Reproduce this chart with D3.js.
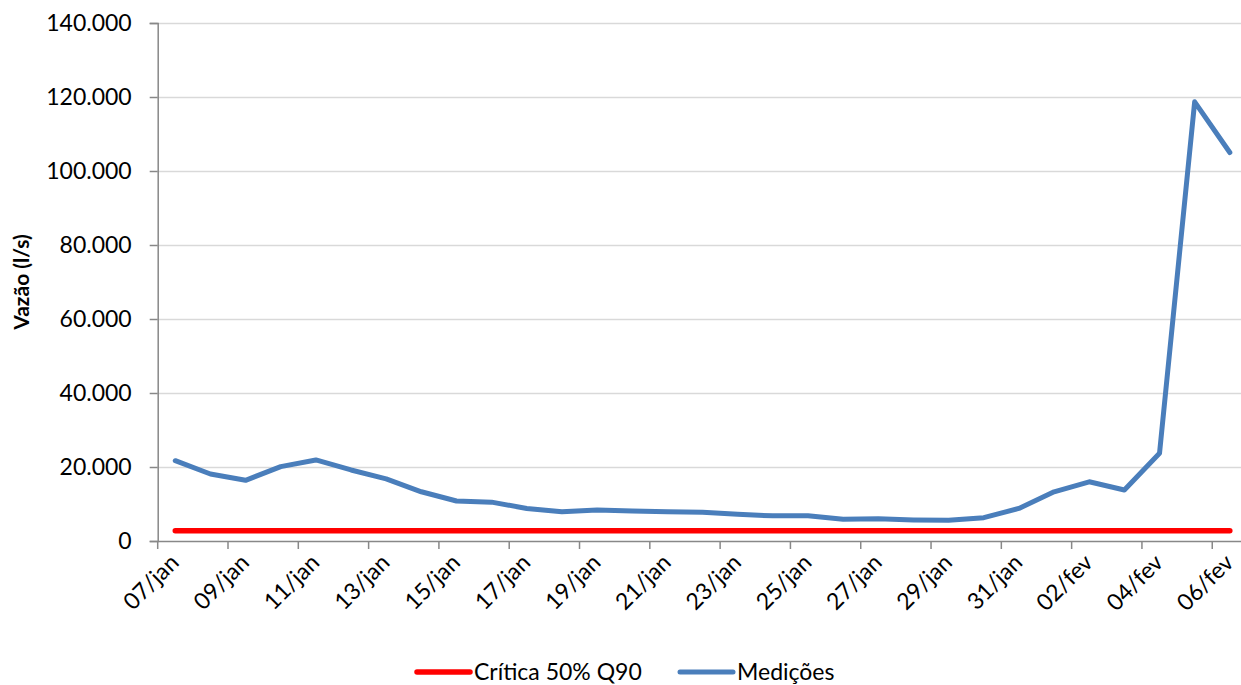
<!DOCTYPE html>
<html>
<head>
<meta charset="utf-8">
<script src="https://cdn.jsdelivr.net/npm/d3@7"></script>
<style>
  body { margin: 0; background: #fff; }
  svg { display: block; }
</style>
</head>
<body>
<svg id="svg"></svg>
<script>
// dados
const dias = ['07/jan', '08/jan', '09/jan', '10/jan', '11/jan', '12/jan', '13/jan', '14/jan',
  '15/jan', '16/jan', '17/jan', '18/jan', '19/jan', '20/jan', '21/jan', '22/jan', '23/jan',
  '24/jan', '25/jan', '26/jan', '27/jan', '28/jan', '29/jan', '30/jan', '31/jan',
  '01/fev', '02/fev', '03/fev', '04/fev', '05/fev', '06/fev']
const medicoes = [21700, 18100, 16400, 20100, 21900, 19200, 16800, 13300, 10800, 10500,
  8800, 7900, 8400, 8100, 7900, 7800, 7200, 6800, 6800, 5900, 6000, 5700, 5600, 6300,
  8800, 13300, 16000, 13800, 23700, 118700, 105000]
const critica = [2800, 2800, 2800, 2800, 2800, 2800, 2800, 2800, 2800, 2800, 2800, 2800,
  2800, 2800, 2800, 2800, 2800, 2800, 2800, 2800, 2800, 2800, 2800, 2800, 2800, 2800,
  2800, 2800, 2800, 2800, 2800]
const yTicks = [0, 20000, 40000, 60000, 80000, 100000, 120000, 140000]
const series = [
  { name: 'Crítica 50% Q90', values: critica, color: '#ff0000', width: 5.5 },
  { name: 'Medições', values: medicoes, color: '#4a7ebb', width: 5 }
]

const W = 1241, H = 685
const font = 'Lato, "Open Sans", sans-serif'
const svg = d3.select('#svg').attr('width', W).attr('height', H)

const x = d3.scaleBand().domain(dias).range([157.7, 1247.4]).padding(0)
const y = d3.scaleLinear().domain([0, 140000]).range([541, 23])
const cx = d => x(d) + x.bandwidth() / 2

const br = d3.formatLocale({ decimal: ',', thousands: '.', grouping: [3], currency: ['R$', ''] })
const fmt = br.format(',d')

// grade
svg.append('g').selectAll('line').data(yTicks.slice(1)).join('line')
  .attr('x1', 157.7).attr('x2', W)
  .attr('y1', d => Math.round(y(d)) + 0.5).attr('y2', d => Math.round(y(d)) + 0.5)
  .attr('stroke', '#d9d9d9').attr('stroke-width', 1.5)

// eixo y
const yAxis = svg.append('g').attr('transform', 'translate(157.7,0)')
  .call(d3.axisLeft(y).tickValues(yTicks).tickFormat(fmt).tickSize(8).tickPadding(18))
yAxis.select('.domain').attr('stroke', '#888').attr('stroke-width', 1.5)
yAxis.selectAll('.tick line').attr('stroke', '#888').attr('stroke-width', 1.5)
yAxis.selectAll('.tick text').attr('font-family', font).attr('font-size', 23).attr('fill', '#000')

// eixo x
const xAxis = svg.append('g').attr('transform', 'translate(0,541)')
  .call(d3.axisBottom(x).tickValues([]).tickSizeOuter(0))
xAxis.select('.domain').attr('stroke', '#888').attr('stroke-width', 1.5)
const tickPos = dias.filter((d, i) => i % 2 === 0)
xAxis.selectAll('line.tk').data(tickPos).join('line').attr('class', 'tk')
  .attr('x1', d => x(d)).attr('x2', d => x(d))
  .attr('y1', 0).attr('y2', 8)
  .attr('stroke', '#888').attr('stroke-width', 1.5)
xAxis.selectAll('text.lbl').data(tickPos).join('text').attr('class', 'lbl')
  .text(d => d)
  .attr('font-family', font).attr('font-size', 23).attr('fill', '#000')
  .attr('text-anchor', 'end')
  .attr('transform', d => `translate(${cx(d) + 5},${23}) rotate(-45)`)

// título do eixo
svg.append('text')
  .text('Vazão (l/s)')
  .attr('font-family', font).attr('font-size', 21).attr('font-weight', 'bold')
  .attr('text-anchor', 'middle')
  .attr('transform', 'translate(29,282) rotate(-90)')

// linhas
const line = d3.line().x((v, i) => cx(dias[i])).y(v => y(v))
svg.append('g').selectAll('path').data(series).join('path')
  .attr('d', s => line(s.values))
  .attr('fill', 'none')
  .attr('stroke', s => s.color)
  .attr('stroke-width', s => s.width)
  .attr('stroke-linecap', 'round')
  .attr('stroke-linejoin', 'round')

// legenda
const legX = [417, 680]
const leg = svg.append('g').selectAll('g').data(series).join('g')
  .attr('transform', (s, i) => `translate(${legX[i]},672)`)
leg.append('line')
  .attr('x1', 0).attr('x2', 53).attr('y1', 0).attr('y2', 0)
  .attr('stroke', s => s.color).attr('stroke-width', s => s.width)
  .attr('stroke-linecap', 'round')
leg.append('text')
  .text(s => s.name)
  .attr('x', 57).attr('y', 0).attr('dy', '0.35em')
  .attr('font-family', font).attr('font-size', 23).attr('fill', '#000')
</script>
</body>
</html>
